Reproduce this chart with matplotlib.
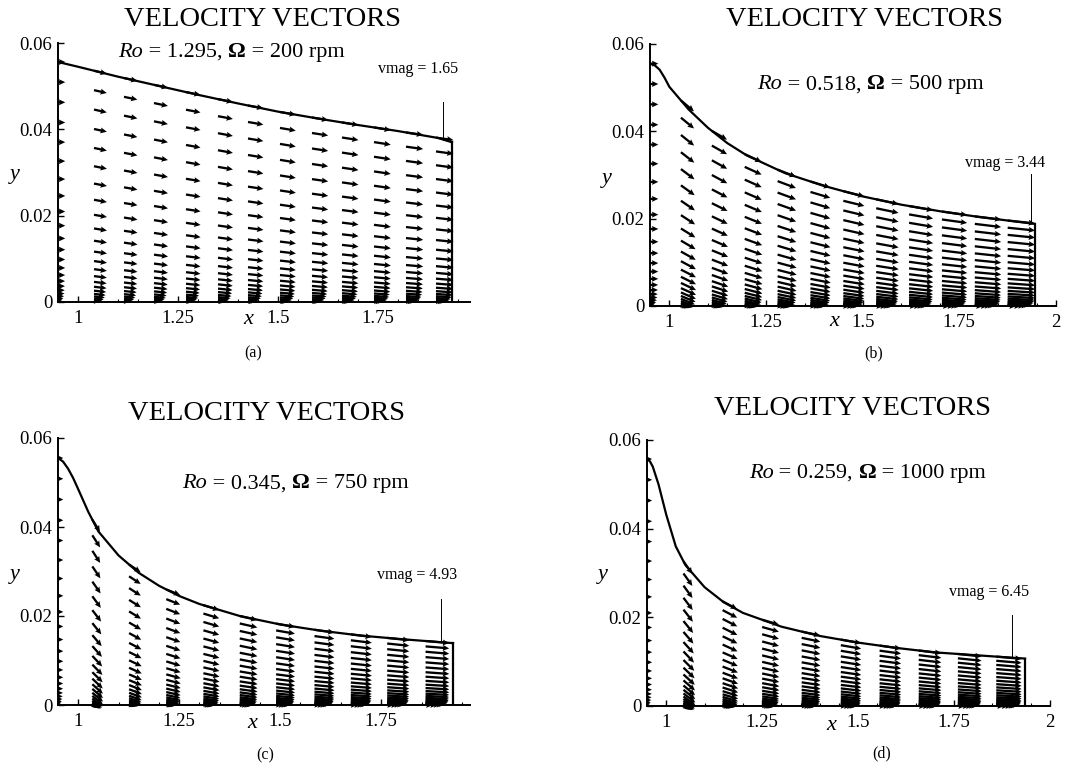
import numpy as np
import matplotlib.pyplot as plt
from matplotlib.ticker import MultipleLocator

plt.rcParams['font.family'] = ['Liberation Serif', 'DejaVu Serif']

# film surface y(x)
SURF_X_A = [0.95, 1.0, 1.1, 1.2, 1.3, 1.4, 1.5, 1.6, 1.7, 1.8, 1.9, 1.935]
SURF_H_A = [0.0556, 0.0545, 0.0522, 0.0501, 0.0480, 0.0460, 0.0441, 0.0425, 0.0410, 0.0396, 0.0380, 0.0370]
SURF_X_B = [0.95, 0.9625, 0.975, 0.9875, 1.0, 1.05, 1.1, 1.15, 1.2, 1.3, 1.4, 1.5, 1.6, 1.7, 1.8, 1.9, 1.945]
SURF_H_B = [0.0555, 0.0551, 0.0541, 0.0523, 0.0502, 0.0450, 0.0408, 0.0373, 0.0345, 0.0304, 0.0275, 0.0251,
            0.0232, 0.0217, 0.0204, 0.0193, 0.0188]
SURF_X_C = [0.95, 0.9625, 0.975, 0.9875, 1.0, 1.025, 1.05, 1.1, 1.15, 1.2, 1.25, 1.3, 1.4, 1.5, 1.6, 1.7, 1.8,
            1.9, 1.928]
SURF_H_C = [0.0555, 0.0547, 0.0531, 0.0510, 0.0485, 0.0434, 0.0390, 0.0336, 0.0297, 0.0268, 0.0245, 0.0227,
            0.0200, 0.0181, 0.0167, 0.0156, 0.0148, 0.0141, 0.0139]
SURF_X_D = [0.95, 0.9575, 0.965, 0.98, 1.0, 1.025, 1.05, 1.1, 1.15, 1.2, 1.3, 1.4, 1.5, 1.6, 1.7, 1.8, 1.9, 1.935]
SURF_H_D = [0.0557, 0.0552, 0.0540, 0.0500, 0.0432, 0.0360, 0.0318, 0.0268, 0.0234, 0.0210, 0.0179, 0.0158,
            0.0143, 0.0131, 0.0121, 0.0115, 0.0109, 0.0107]

# vector stations: x, surface arrow angle (deg on screen), surface speed
COL_X_A = [1.04, 1.115, 1.19, 1.27, 1.35, 1.425, 1.505, 1.585, 1.66, 1.74, 1.82, 1.895]
ANG_A = [-13, -12, -12, -11, -11, -10, -10, -9, -9, -9, -8, -8]
SPD_A = [1.23, 1.28, 1.33, 1.38, 1.42, 1.46, 1.50, 1.53, 1.56, 1.59, 1.62, 1.65]
COL_X_B = [1.03, 1.11, 1.195, 1.28, 1.365, 1.45, 1.535, 1.62, 1.705, 1.79, 1.875]
ANG_B = [-40, -30, -25, -21, -17, -14, -12, -10, -8, -7, -6]
SPD_B = [2.04, 2.10, 2.23, 2.36, 2.48, 2.61, 2.74, 2.93, 3.06, 3.19, 3.31]
COL_X_C = [1.035, 1.126, 1.218, 1.31, 1.40, 1.49, 1.585, 1.675, 1.765, 1.86]
ANG_C = [-58, -34, -22, -17, -13, -10, -8, -7, -6, -5]
SPD_C = [3.00, 2.89, 3.11, 3.43, 3.75, 3.97, 4.18, 4.39, 4.61, 4.93]
COL_X_D = [1.045, 1.147, 1.25, 1.353, 1.455, 1.556, 1.658, 1.76, 1.86]
ANG_D = [-55, -28, -16, -12, -10, -8, -7, -6, -5]
SPD_D = [3.90, 4.17, 4.43, 4.84, 5.24, 5.51, 5.78, 6.05, 6.45]
INLET_SPD = [0.68, 1.0, 1.1, 1.3]
VMAG = [1.65, 3.44, 4.93, 6.45]

# grid rows as fraction of local film thickness, with the velocity profile
ETA = [0.002, 0.005, 0.009, 0.015, 0.024, 0.035, 0.049, 0.066, 0.087, 0.112, 0.142, 0.177,
       0.218, 0.265, 0.318, 0.377, 0.442, 0.512, 0.587, 0.666, 0.748, 0.832, 0.916, 1.0]
U_FRAC = [0.30, 0.48, 0.62, 0.74, 0.83, 0.89, 0.93, 0.96, 0.975, 0.985, 0.99, 0.995,
          1.0, 1.0, 1.0, 1.0, 1.0, 1.0, 1.0, 1.0, 1.0, 1.0, 1.0, 1.0]
TAN_FRAC = [0.45, 0.45, 0.46, 0.47, 0.48, 0.49, 0.50, 0.52, 0.54, 0.56, 0.59, 0.61,
            0.64, 0.67, 0.70, 0.74, 0.78, 0.82, 0.86, 0.90, 0.93, 0.96, 0.98, 1.0]

RO = ['1.295', '0.518', '0.345', '0.259']
RPM = ['200', '500', '750', '1000']
SUB = ['(a)', '(b)', '(c)', '(d)']

W, H = 1066, 769
fig = plt.figure(figsize=(W / 100, H / 100), dpi=100)


def add_ax(l, r, t, b):
    return fig.add_axes([l / W, 1 - b / H, (r - l) / W, (b - t) / H])


def ro_label(ax, x, y, ro, rpm, fs=16):
    # pieces laid out one after another: italic Ro, plain text, bold Omega
    parts = [(' = %s, ' % ro, 'normal', 'normal'), ('\u03a9', 'normal', 'bold'),
             (' = %s rpm' % rpm, 'normal', 'normal')]
    t = ax.text(x, y, 'Ro', style='italic', fontsize=fs, ha='left', va='bottom')
    for s, st, wt in parts:
        t = ax.annotate(s, xy=(1, 0), xycoords=t, style=st, fontweight=wt, fontsize=fs,
                        ha='left', va='bottom')


# axes boxes in pixels: left, right, top (y=0.06), bottom (y=0)
boxes = [(58, 470, 43, 302), (650, 1056, 44, 306), (58, 470, 438, 705), (647, 1050, 440, 706)]
xmax = [1.98, 2.0, 1.97, 2.0]
xt_labels = [['1', '1.25', '1.5', '1.75'], ['1', '1.25', '1.5', '1.75', '2'],
             ['1', '1.25', '1.5', '1.75'], ['1', '1.25', '1.5', '1.75', '2']]
# left edge / bottom of the Ro text, in data units
ro_pos = [(1.10, 0.0557), (1.228, 0.0485), (1.258, 0.0476), (1.215, 0.0504)]
vline = [(1.9125, 0.0463), (1.936, 0.0302), (1.898, 0.0238), (1.90, 0.0205)]
vtext = [(1.85, 0.0540), (1.867, 0.0328), (1.84, 0.0292), (1.842, 0.0257)]
title_pos = [(262, 20), (865, 20), (266, 413), (852, 409)]
sub_pos = [(253, 353), (874, 353), (265, 755), (882, 753)]
ylab_pos = [(15, 175), (607, 178), (15, 575), (603, 575)]
xlab_pos = [(248, 320), (834, 322), (252, 723), (831, 725)]
scales = [37.5, 46.5, 84.0, 97.5]

data = [(SURF_X_A, SURF_H_A, COL_X_A, ANG_A, SPD_A),
        (SURF_X_B, SURF_H_B, COL_X_B, ANG_B, SPD_B),
        (SURF_X_C, SURF_H_C, COL_X_C, ANG_C, SPD_C),
        (SURF_X_D, SURF_H_D, COL_X_D, ANG_D, SPD_D)]

eta = np.array(ETA)
ufr = np.array(U_FRAC)
tfr = np.array(TAN_FRAC)

for i in range(4):
    sx, sh, cx, ang, spd = data[i]
    ax = add_ax(*boxes[i])
    ax.set_xlim(0.95, xmax[i])
    ax.set_ylim(0, 0.06)

    X, Y, U, V = [], [], [], []
    # inlet column on the left boundary
    X += [sx[0]] * len(eta)
    Y += list(eta * sh[0])
    U += list(INLET_SPD[i] * ufr)
    V += [0.0] * len(eta)
    for xc, a, s in zip(cx, ang, spd):
        h = np.interp(xc, sx, sh)
        th = np.arctan(np.tan(np.radians(a)) * tfr)
        X += [xc] * len(eta)
        Y += list(eta * h)
        U += list(s * ufr * np.cos(th))
        V += list(s * ufr * np.sin(th))
    ax.quiver(X, Y, U, V, angles='uv', scale_units='x', scale=scales[i],
              units='dots', width=2.3, headwidth=2.6, headlength=2.8, headaxislength=2.5,
              color='black', pivot='tail', zorder=3, clip_on=False)

    ax.plot(sx, sh, color='black', lw=1.6, zorder=4)
    ax.plot([sx[-1], sx[-1]], [0, sh[-1]], color='black', lw=1.6, zorder=4)

    # vmag marker
    xv, yv = vline[i]
    ax.plot([xv, xv], [np.interp(xv, sx, sh), yv], color='black', lw=0.7)
    ax.text(vtext[i][0], vtext[i][1], 'vmag = %.2f' % VMAG[i], ha='center', va='center', fontsize=11.5)
    ro_label(ax, ro_pos[i][0], ro_pos[i][1], RO[i], RPM[i])

    for side in ['top', 'right']:
        ax.spines[side].set_visible(False)
    for side in ['left', 'bottom']:
        ax.spines[side].set_linewidth(1.4)
    ticks = [1, 1.25, 1.5, 1.75, 2][:len(xt_labels[i])]
    ax.set_xticks(ticks)
    ax.set_xticklabels(xt_labels[i])
    ax.xaxis.set_minor_locator(MultipleLocator(0.05))
    ax.set_yticks([0, 0.02, 0.04, 0.06])
    ax.set_yticklabels(['0', '0.02', '0.04', '0.06'])
    ax.tick_params(direction='in', length=4, width=1, labelsize=13.5, pad=6)
    ax.tick_params(axis='y', pad=4)
    ax.tick_params(which='minor', direction='in', length=2, width=0.8)
    ax.patch.set_alpha(0)

    fig.text(title_pos[i][0] / W, 1 - title_pos[i][1] / H, 'VELOCITY VECTORS',
             ha='center', va='center', fontsize=20.5)
    fig.text(sub_pos[i][0] / W, 1 - sub_pos[i][1] / H, SUB[i], ha='center', va='center', fontsize=11.5)
    fig.text(ylab_pos[i][0] / W, 1 - ylab_pos[i][1] / H, 'y', ha='center', va='center',
             fontsize=16, style='italic')
    fig.text(xlab_pos[i][0] / W, 1 - xlab_pos[i][1] / H, 'x', ha='center', va='center',
             fontsize=16, style='italic')

fig.savefig('out.png', dpi=100, facecolor='white')
